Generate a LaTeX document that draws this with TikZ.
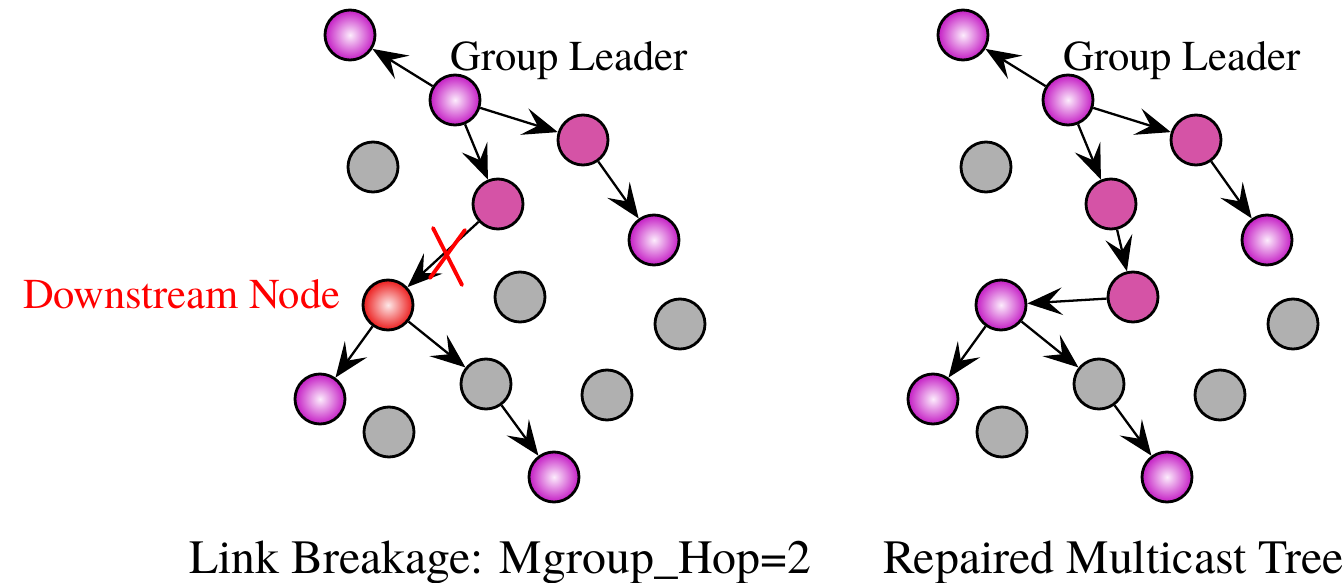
\documentclass[tikz,border=0pt]{standalone}
\usepackage{fontspec}
\setmainfont{TeX Gyre Termes}
\usetikzlibrary{arrows.meta}

\definecolor{ballrim}{RGB}{196,28,196}
\definecolor{ballcore}{RGB}{252,236,252}
\definecolor{relaypink}{RGB}{213,83,166}
\definecolor{idlegray}{RGB}{176,176,176}
\definecolor{lostrim}{RGB}{236,28,28}
\definecolor{lostcore}{RGB}{253,232,232}

\tikzset{
	member/.style={circle,draw=black,line width=1.6pt,minimum size=1.0cm,inner sep=0pt,
		shading=radial,inner color=ballcore,outer color=ballrim},
	relay/.style={circle,draw=black,line width=1.6pt,minimum size=1.0cm,inner sep=0pt,fill=relaypink},
	idle/.style={circle,draw=black,line width=1.6pt,minimum size=1.0cm,inner sep=0pt,fill=idlegray},
	lost/.style={circle,draw=black,line width=1.6pt,minimum size=1.0cm,inner sep=0pt,
		shading=radial,inner color=lostcore,outer color=lostrim},
	link/.style={line width=1.3pt,->},
	tag/.style={font=\fontsize{24.2}{29}\selectfont},
	caption/.style={font=\fontsize{27.2}{32}\selectfont,anchor=base west}
}

\begin{document}
\begin{tikzpicture}[>={Stealth[length=0.7cm,width=0.55cm,inset=0.28cm]}]
	\useasboundingbox (0,0) rectangle (26.84,11.66);
	
	% Left tree: link breakage
	\node[member] (la) at (7.00,10.96) {};
	\node[member] (lgl) at (9.10,9.66) {};
	\node[relay] (lp1) at (11.66,8.86) {};
	\node[relay] (lp2) at (9.96,7.58) {};
	\node[member] (lb) at (13.08,6.86) {};
	\node[lost] (ld) at (7.76,5.56) {};
	\node[member] (lc) at (6.40,3.68) {};
	\node[idle] (lg4) at (9.72,3.98) {};
	\node[member] (le) at (11.08,2.12) {};
	\foreach \n/\x/\y in {g1/7.46/8.32, g2/10.40/5.72, g3/13.60/5.18, g5/12.14/3.76, g6/7.78/3.02} {
		\node[idle] (l\n) at (\x,\y) {};
	}
	
	\draw[link] (lgl) -- (la);
	\draw[link] (lgl) -- (lp1);
	\draw[link] (lgl) -- (lp2);
	\draw[link] (lp1) -- (lb);
	\draw[link] (lp2) -- (ld);
	\draw[link] (ld) -- (lc);
	\draw[link] (ld) -- (lg4);
	\draw[link] (lg4) -- (le);
	
	% broken link mark
	\draw[red,line width=2.2pt,line cap=round] (8.66,7.10) -- (9.24,5.96);
	\draw[red,line width=2.2pt,line cap=round] (9.30,7.06) -- (8.60,6.10);
	
	% labels
	\node[tag,anchor=base] (lgltext) at (11.38,10.24) {Group Leader};
	\node[tag,anchor=base west,text=red] (ldtext) at (0.34,5.48) {Downstream Node};
	
	% Right tree: repaired
	\node[member] (ra) at (19.26,10.96) {};
	\node[member] (rgl) at (21.36,9.66) {};
	\node[relay] (rp1) at (23.92,8.86) {};
	\node[relay] (rp2) at (22.22,7.58) {};
	\node[member] (rb) at (25.34,6.86) {};
	\node[relay] (rp3) at (22.66,5.72) {};
	\node[member] (rd) at (20.02,5.56) {};
	\node[member] (rc) at (18.66,3.68) {};
	\node[idle] (rg4) at (21.98,3.98) {};
	\node[member] (re) at (23.34,2.12) {};
	\foreach \n/\x/\y in {g1/19.72/8.32, g3/25.86/5.18, g5/24.40/3.76, g6/20.04/3.02} {
		\node[idle] (r\n) at (\x,\y) {};
	}
	
	\draw[link] (rgl) -- (ra);
	\draw[link] (rgl) -- (rp1);
	\draw[link] (rgl) -- (rp2);
	\draw[link] (rp1) -- (rb);
	\draw[link] (rp2) -- (rp3);
	\draw[link] (rp3) -- (rd);
	\draw[link] (rd) -- (rc);
	\draw[link] (rd) -- (rg4);
	\draw[link] (rg4) -- (re);
	
	\node[tag,anchor=base] (rgltext) at (23.64,10.24) {Group Leader};
	
	% captions
	\node[caption] (lcap) at (3.66,0.20) {Link Breakage: Mgroup\_Hop=2};
	\node[caption] (rcap) at (17.54,0.20) {Repaired Multicast Tree};
\end{tikzpicture}
\end{document}
